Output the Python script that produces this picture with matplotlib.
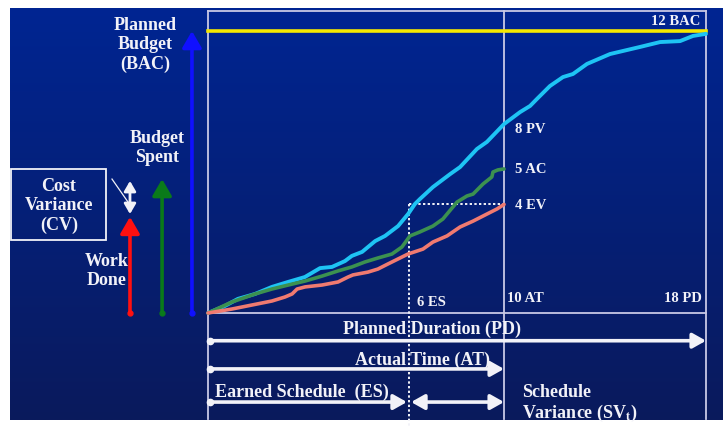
import numpy as np
import matplotlib
matplotlib.use("Agg")
from matplotlib import pyplot as plt
from matplotlib.patches import Rectangle

plt.rcParams['font.family'] = ['Liberation Serif', 'DejaVu Serif']
plt.rcParams['font.weight'] = 'bold'
plt.rcParams['mathtext.fontset'] = 'stix'

# curves (time units, money units)
pv_t = [0, 0.61, 1.08, 1.70, 2.31, 2.89, 3.50, 4.05, 4.48, 4.95, 5.20, 5.57, 6.04, 6.40,
        6.87, 7.23, 7.48, 7.66, 8.13, 8.75, 9.11, 9.72, 10.08, 10.70, 11.28, 11.64, 11.89,
        12.36, 12.83, 13.19, 13.70, 14.53, 15.61, 16.34, 17.06, 17.53, 18.0]
pv_v = [0, 0.30, 0.60, 0.81, 1.11, 1.32, 1.53, 1.91, 1.96, 2.21, 2.43, 2.60, 3.06, 3.28,
        3.70, 4.21, 4.64, 4.85, 5.36, 5.91, 6.21, 6.98, 7.28, 8.04, 8.55, 8.81, 9.11,
        9.66, 10.04, 10.17, 10.60, 11.02, 11.32, 11.53, 11.57, 11.79, 11.88]

ac_t = [0, 0.87, 1.70, 2.31, 3.04, 3.51, 4.12, 4.70, 5.20, 5.67, 6.14, 6.65, 7.01, 7.30,
        7.66, 8.13, 8.49, 9.00, 9.36, 9.58, 9.94, 10.26, 10.30, 10.48, 10.70]
ac_v = [0, 0.47, 0.81, 1.02, 1.23, 1.36, 1.57, 1.79, 1.96, 2.17, 2.34, 2.51, 2.81, 3.28,
        3.45, 3.70, 4.00, 4.72, 4.98, 5.06, 5.49, 5.79, 6.00, 6.09, 6.13]

ev_t = [0, 0.87, 1.59, 2.31, 2.78, 3.04, 3.22, 3.51, 4.12, 4.70, 5.06, 5.24, 5.78, 6.14,
        6.51, 6.87, 7.23, 7.77, 8.13, 8.64, 9.11, 9.58, 10.08, 10.45, 10.70]
ev_v = [0, 0.17, 0.34, 0.51, 0.68, 0.81, 1.02, 1.11, 1.19, 1.32, 1.53, 1.62, 1.74, 1.87,
        2.09, 2.30, 2.51, 2.72, 3.02, 3.28, 3.66, 3.91, 4.21, 4.43, 4.62]

bac = 12.0
es_t = 7.26
at_t = 10.70
pd_t = 18.0
work_done = 4.09
budget_spent = 5.70

white = '#f2f2f8'
edge = '#c8c8e6'

fig = plt.figure(figsize=(7.23, 4.27), dpi=100)
fig.patch.set_facecolor('white')
ax = fig.add_axes([0, 0, 1, 1])
ax.set_xlim(-7.518, 18.614)
ax.set_ylim(-4.809, 13.362)
ax.axis('off')

# background gradient
grad = np.linspace(0, 1, 256).reshape(-1, 1)
cmap = matplotlib.colors.LinearSegmentedColormap.from_list('bg', ['#002592', '#0a1a5c'])
ax.imshow(grad, cmap=cmap, aspect='auto', extent=[-7.16, 18.614, -4.55, 12.98],
          origin='upper', zorder=0)

top = 12.85
low = -4.51
# frame and time markers
ax.plot([0, pd_t], [top, top], color=edge, lw=1.3, zorder=2)
ax.plot([0, pd_t], [0, 0], color=edge, lw=1.3, zorder=2)
for xv in [0, at_t, pd_t]:
    ax.plot([xv, xv], [top, low], color=edge, lw=1.3, zorder=2)

ax.plot([0, pd_t], [bac, bac], color='#f5e800', lw=2.6, zorder=3)

ax.plot([es_t, es_t], [ev_v[-1], -4.81], color=white, lw=1.4, ls=(0, (1.2, 1.2)), zorder=3)
ax.plot([es_t, at_t], [ev_v[-1], ev_v[-1]], color=white, lw=1.4, ls=(0, (1.2, 1.2)), zorder=3)

ax.plot(pv_t, pv_v, color='#1ec4f4', lw=2.8, zorder=4, solid_capstyle='round')
ax.plot(ac_t, ac_v, color='#3c9150', lw=2.6, zorder=4, solid_capstyle='round')
ax.plot(ev_t, ev_v, color='#f07a70', lw=2.6, zorder=4, solid_capstyle='round')

# chart labels
lab = dict(color=white, fontsize=10.5, va='center')
ax.text(17.78, 12.43, '12 BAC', ha='right', **lab)
ax.text(11.1, 7.83, '8 PV', ha='left', **lab)
ax.text(11.1, 6.13, '5 AC', ha='left', **lab)
ax.text(11.1, 4.60, '4 EV', ha='left', **lab)
ax.text(7.55, 0.47, '6 ES', ha='left', **lab)
ax.text(10.8, 0.64, '10 AT', ha='left', **lab)
ax.text(17.85, 0.64, '18 PD', ha='right', **lab)


def arrow(x0, y0, x1, y1, color, lw=2.6, style='-|>', hl=9, hw=5.5):
    ax.annotate('', xy=(x1, y1), xytext=(x0, y0),
                arrowprops=dict(arrowstyle=f'{style},head_length={hl},head_width={hw}',
                                color=color, lw=lw, shrinkA=0, shrinkB=0,
                                mutation_scale=1), zorder=5)


# time arrows below the chart
y_pd, y_at, y_es = -1.18, -2.38, -3.79
arrow(0.07, y_pd, pd_t, y_pd, white, hl=8, hw=4.5)
arrow(0.07, y_at, at_t, y_at, white, hl=8, hw=4.5)
arrow(0.07, y_es, es_t - 0.07, y_es, white, hl=8, hw=4.5)
arrow(es_t + 0.08, y_es, at_t, y_es, white, style='<|-|>', hl=8, hw=4.5)
ax.plot([0.07] * 3, [y_pd, y_at, y_es], 'o', color=white, ms=4.5, zorder=6)

big = dict(color=white, fontsize=13)
ax.text(8.1, -0.64, 'Planned Duration (PD)', ha='center', va='center', **big)
ax.text(7.77, -1.96, 'Actual Time (AT)', ha='center', va='center', **big)
ax.text(0.25, -3.32, 'Earned Schedule  (ES)', ha='left', va='center', **big)
ax.text(11.35, -3.83, 'Schedule\nVariance (SV$_\\mathrm{t}$)', ha='left', va='center',
        linespacing=1.15, **big)

# budget arrows on the left
x_red, x_green, x_blue = -2.82, -1.66, -0.58
arrow(x_blue, 0, x_blue, bac, '#1010ff', lw=2.6, hl=10, hw=5.8)
arrow(x_green, 0, x_green, budget_spent, '#0a7a1a', lw=2.6, hl=10, hw=5.8)
arrow(x_red, 0, x_red, work_done, '#ff1010', lw=2.6, hl=10, hw=5.8)
ax.plot([x_red], [0], 'o', color='#ff1010', ms=3.5, zorder=6)
ax.plot([x_green], [0], 'o', color='#0a7a1a', ms=3.5, zorder=6)
ax.plot([x_blue], [0], 'o', color='#1010ff', ms=3.5, zorder=6)
arrow(x_red, 4.21, x_red, 5.62, white, lw=2.0, style='<|-|>', hl=6, hw=3.5)
ax.plot([-3.47, -2.89], [5.70, 4.72], color=white, lw=0.9, zorder=5)

ax.add_patch(Rectangle((-7.12, 3.11), 3.43, 3.02, fill=False, ec=white, lw=1.3, zorder=5))

ax.text(-2.28, 11.45, 'Planned\nBudget\n(BAC)', ha='center', va='center', linespacing=1.2, **big)
ax.text(-1.84, 7.06, 'Budget\nSpent', ha='center', va='center', linespacing=1.2, **big)
ax.text(-5.39, 4.60, 'Cost\nVariance\n(CV)', ha='center', va='center', linespacing=1.2, **big)
ax.text(-3.65, 1.83, 'Work\nDone', ha='center', va='center', linespacing=1.2, **big)

fig.savefig('out.png', dpi=100)
